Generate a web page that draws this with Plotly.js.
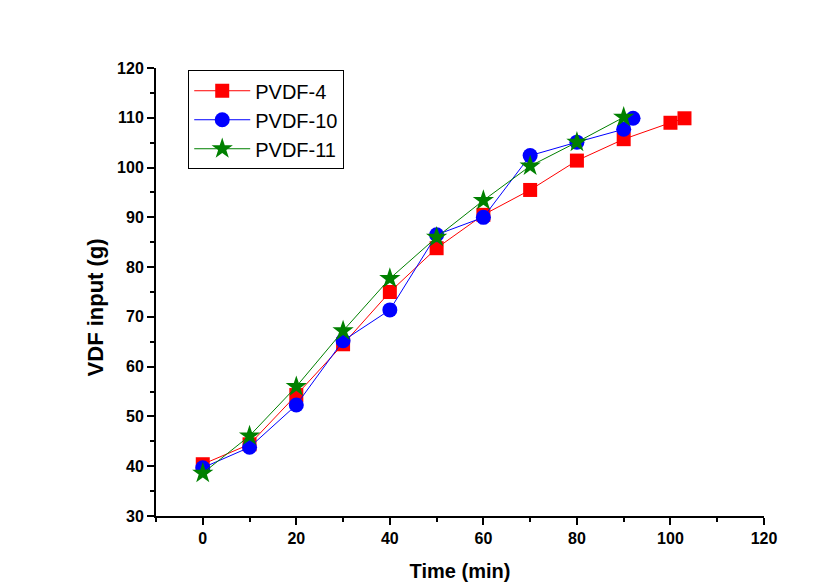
<!DOCTYPE html>
<html>
<head>
<meta charset="utf-8">
<script src="https://cdn.plot.ly/plotly-3.0.1.min.js"></script>
<style>html,body{margin:0;padding:0;background:#fff;}#chart{width:821px;height:582px;}</style>
</head>
<body>
<div id="chart"></div>
<script>
const seriesNames = ["PVDF-4", "PVDF-10", "PVDF-11"];
const pvdf4Time = [0, 10, 20, 30, 40, 50, 60, 70, 80, 90, 100, 103];
const pvdf4Input = [40.4, 44.4, 54.3, 64.5, 75.0, 83.8, 90.5, 95.5, 101.4, 105.7, 109.0, 109.9];
const pvdf10Time = [0, 10, 20, 30, 40, 50, 60, 70, 80, 90, 92];
const pvdf10Input = [39.7, 43.8, 52.3, 65.2, 71.4, 86.5, 90.0, 102.4, 105.1, 107.7, 109.9];
const pvdf11Time = [0, 10, 20, 30, 40, 50, 60, 70, 80, 90];
const pvdf11Input = [38.6, 46.1, 56.0, 67.2, 77.7, 86.0, 93.4, 100.3, 105.1, 110.1];
const xTicks = [0, 20, 40, 60, 80, 100, 120];
const yTicks = [30, 40, 50, 60, 70, 80, 90, 100, 110, 120];
const yTitle = "VDF input (g)";
const xTitle = "Time (min)";

const font = "Arial, 'Liberation Sans', sans-serif";
const traces = [
  {x: pvdf4Time, y: pvdf4Input, name: seriesNames[0], mode: "lines+markers",
   line: {color: "#ff0000", width: 1}, marker: {symbol: "square", size: 14, color: "#ff0000"}},
  {x: pvdf10Time, y: pvdf10Input, name: seriesNames[1], mode: "lines+markers",
   line: {color: "#0000ff", width: 1}, marker: {symbol: "circle", size: 15, color: "#0000ff"}},
  {x: pvdf11Time, y: pvdf11Input, name: seriesNames[2], mode: "lines+markers",
   line: {color: "#008000", width: 1}, marker: {symbol: "star", size: 16, color: "#008000"}}
];

const layout = {
  width: 821, height: 582,
  margin: {l: 156, r: 57, t: 68, b: 66},
  paper_bgcolor: "#fff", plot_bgcolor: "#fff",
  showlegend: true,
  legend: {x: 0.053, y: 0.995, xanchor: "left", yanchor: "top",
    bordercolor: "#000", borderwidth: 1, bgcolor: "#fff", itemwidth: 56,
    font: {family: font, size: 20, color: "#000"}, tracegroupgap: 0},
  xaxis: {
    range: [-10, 120], tickvals: xTicks, ticktext: xTicks.map(String),
    showgrid: false, zeroline: false, showline: true, linecolor: "#000", linewidth: 2,
    ticks: "outside", ticklen: 7, tickwidth: 2, tickcolor: "#000",
    minor: {dtick: 10, tick0: 0, ticks: "outside", ticklen: 4, tickwidth: 2, tickcolor: "#000", showgrid: false},
    tickfont: {family: font, size: 16, color: "#000", weight: "bold"},
    title: {text: "<b>" + xTitle + "</b>", font: {family: font, size: 20, color: "#000"}, standoff: 18}
  },
  yaxis: {
    range: [30, 120], tickvals: yTicks, ticktext: yTicks.map(String),
    showgrid: false, zeroline: false, showline: true, linecolor: "#000", linewidth: 2,
    ticks: "outside", ticklen: 7, tickwidth: 2, tickcolor: "#000",
    minor: {dtick: 5, tick0: 30, ticks: "outside", ticklen: 4, tickwidth: 2, tickcolor: "#000", showgrid: false},
    tickfont: {family: font, size: 16, color: "#000", weight: "bold"}
  },
  annotations: [{
    text: "<b>" + yTitle + "</b>", xref: "paper", yref: "paper", x: -0.1, y: 0.466,
    xanchor: "center", yanchor: "middle", textangle: -90, showarrow: false,
    font: {family: font, size: 22, color: "#000"}
  }]
};
Plotly.newPlot("chart", traces, layout, {displayModeBar: false, staticPlot: true});
</script>
</body>
</html>
